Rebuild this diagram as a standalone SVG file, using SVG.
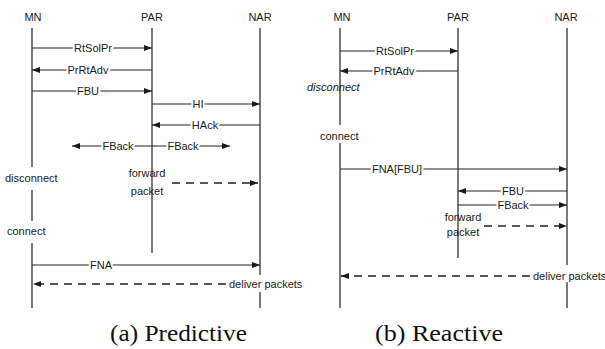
<svg xmlns="http://www.w3.org/2000/svg" width="605" height="349" viewBox="0 0 605 349">
  <defs>
    <marker id="arrow" viewBox="0 0 8 6" refX="8" refY="3" markerWidth="8" markerHeight="6" markerUnits="userSpaceOnUse" orient="auto">
      <path d="M0,0 L8,3 L0,6 z" fill="#1a1a1a"/>
    </marker>
  </defs>
  <style>
    text { font-family: "Liberation Sans", Arial, sans-serif; font-size: 11px; fill: #1a1a1a; }
    .head { text-anchor: middle; font-size: 11px; }
    .lbl { text-anchor: middle; paint-order: stroke; stroke: #fff; stroke-width: 4px; stroke-linejoin: round; }
    .note { paint-order: stroke; stroke: #fff; stroke-width: 3px; stroke-linejoin: round; }
    .mid { text-anchor: middle; }
    .life { stroke: #222; stroke-width: 1.2; fill: none; }
    .msg { stroke: #222; stroke-width: 1; fill: none; marker-end: url(#arrow); }
    .dash { stroke: #222; stroke-width: 1.5; fill: none; stroke-dasharray: 8 6; marker-end: url(#arrow); }
    .cap { font-family: "Liberation Serif", "Times New Roman", serif; font-size: 24px; fill: #111; }
  </style>

  <rect width="605" height="349" fill="#fff"/>

  <!-- (a) Predictive -->
  <g id="a-MN">
    <text class="head" x="33" y="21">MN</text>
    <path class="life" d="M32,28 V167 M32,190 V221 M32,243 V308"/>
    <text x="5" y="182">disconnect</text>
    <text x="7" y="235">connect</text>
  </g>
  <g id="a-PAR">
    <text class="head" x="152" y="21">PAR</text>
    <path class="life" d="M152,28 V253"/>
  </g>
  <g id="a-NAR">
    <text class="head" x="260" y="21">NAR</text>
    <path class="life" d="M260,28 V275 M260,292 V308"/>
  </g>

  <g id="a-connectors">
    <path class="msg" d="M32,48 H152"/>
    <path class="msg" d="M152,70 H32"/>
    <path class="msg" d="M32,91 H152"/>
    <path class="msg" d="M152,104 H260"/>
    <path class="msg" d="M260,125 H152"/>
    <path class="msg" d="M152,146 H72"/>
    <path class="msg" d="M152,146 H230"/>
    <path class="dash" d="M172,183 H258"/>
    <path class="msg" d="M32,265 H260"/>
    <path class="dash" d="M226,284 H33"/>

    <text class="lbl" x="93" y="52">RtSolPr</text>
    <text class="lbl" x="88" y="74">PrRtAdv</text>
    <text class="lbl" x="88" y="95">FBU</text>
    <text class="lbl" x="198" y="108">HI</text>
    <text class="lbl" x="205" y="129">HAck</text>
    <text class="lbl" x="118" y="150">FBack</text>
    <text class="lbl" x="183" y="150">FBack</text>
    <text class="mid" x="147" y="177">forward</text>
    <text class="mid" x="147" y="195">packet</text>
    <text class="lbl" x="101" y="269">FNA</text>
    <text class="note" x="229" y="288" font-size="10.5">deliver packets</text>
  </g>

  <!-- (b) Reactive -->
  <g id="b-MN">
    <text class="head" x="342" y="21">MN</text>
    <path class="life" d="M340,28 V125 M340,143 V308"/>
    <text x="307" y="91" font-style="italic">disconnect</text>
    <text x="320" y="140">connect</text>
  </g>
  <g id="b-PAR">
    <text class="head" x="458" y="21">PAR</text>
    <path class="life" d="M458,28 V258"/>
  </g>
  <g id="b-NAR">
    <text class="head" x="566" y="21">NAR</text>
    <path class="life" d="M567,28 V265 M567,282 V308"/>
  </g>

  <g id="b-connectors">
    <path class="msg" d="M340,51 H458"/>
    <path class="msg" d="M458,71 H340"/>
    <path class="msg" d="M340,169 H567"/>
    <path class="msg" d="M567,191 H458"/>
    <path class="msg" d="M458,205 H567"/>
    <path class="dash" d="M484,226 H567"/>
    <path class="dash" d="M530,276 H341"/>

    <text class="lbl" x="513" y="195">FBU</text>
    <text class="lbl" x="395" y="55">RtSolPr</text>
    <text class="lbl" x="394" y="75">PrRtAdv</text>
    <text class="lbl" x="397" y="173">FNA[FBU]</text>
    <text class="lbl" x="513" y="209">FBack</text>
    <text class="mid" x="463" y="221">forward</text>
    <text class="mid" x="463" y="236">packet</text>
    <text class="note" x="533" y="280" font-size="10">deliver packets</text>
  </g>

  <!-- captions -->
  <text class="cap" x="110" y="341" textLength="137" lengthAdjust="spacingAndGlyphs">(a) Predictive</text>
  <text class="cap" x="375" y="341" textLength="128" lengthAdjust="spacingAndGlyphs">(b) Reactive</text>
</svg>
